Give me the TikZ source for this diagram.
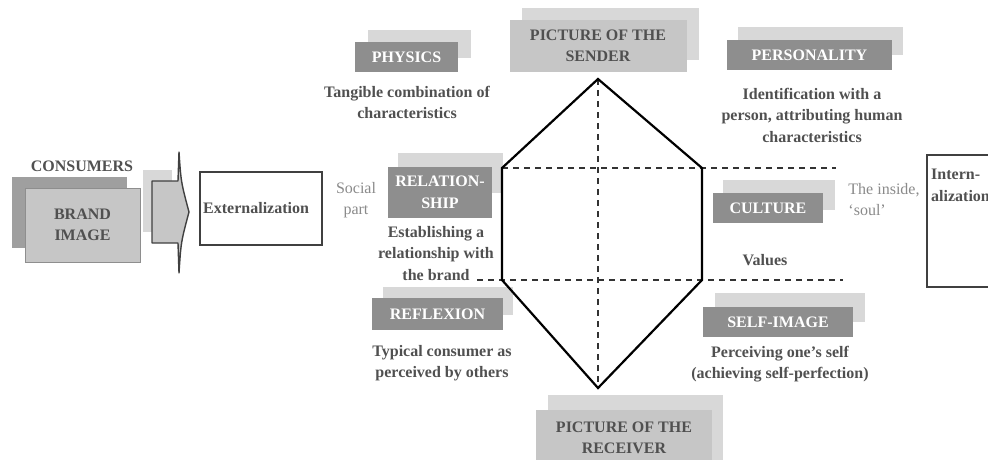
\documentclass[tikz,border=0pt]{standalone}
\usepackage{fontspec}
\setmainfont{Liberation Serif}
\definecolor{dk}{HTML}{8E8E8E}
\definecolor{lt}{HTML}{D8D8D8}
\definecolor{md}{HTML}{C6C6C6}
\definecolor{tx}{HTML}{505050}
\definecolor{soft}{HTML}{8A8A8A}
\begin{document}
\begin{tikzpicture}[x=1pt,y=-1pt,
  base/.style={inner sep=0pt, font=\fontsize{16}{21.5}\selectfont\bfseries, align=center},
  backbox/.style={base, fill=lt, draw=none},
  darkbox/.style={base, fill=dk, text=white},
  picbox/.style={base, fill=md, text=tx},
  desc/.style={base, text=tx},
  note/.style={inner sep=0pt, font=\fontsize{16}{21.5}\selectfont, text=soft, align=left},
  hexline/.style={line width=2.2pt, black, line join=miter},
  dline/.style={line width=1.4pt, black!80, dash pattern=on 6pt off 5pt}]
\useasboundingbox (0,0) rectangle (988,460);

% consumers / brand image
\node[desc] (cons) at (82,166) {CONSUMERS};
\node[base, fill=dk!85, minimum width=115, minimum height=71] (bback) at (69.5,212.5) {};
\node[picbox, draw=dk, line width=1pt, minimum width=115, minimum height=74] (brand) at (82.5,225) {BRAND\\IMAGE};

% block arrow
\fill[lt] (143,170) rectangle (172,232);
\draw[fill=md, draw=black!75, line width=1.4pt, line join=round]
  (152,181) -- (178,181) -- (179,152) .. controls (181,182) .. (189,212)
  .. controls (181,242) .. (179,273) -- (178,243) -- (152,243) -- cycle;

% externalization
\node[base, draw=black!75, line width=1.2pt, fill=white, minimum width=122, minimum height=73, text=tx] (ext) at (261,208.5) {};
\node[base, anchor=west, text=tx] (extt) at (203,208) {Externalization};
\node[note, align=center] (social) at (356,200) {Social\\part};

% physics
\node[backbox, minimum width=103, minimum height=28] (phyb) at (419,44) {};
\node[darkbox, minimum width=103, minimum height=30] (phy) at (406.5,57) {PHYSICS};
\node[desc] (phyd) at (407,102.5) {Tangible combination of\\characteristics};

% sender
\node[backbox, minimum width=177, minimum height=52] (sendb) at (610,34) {};
\node[picbox, minimum width=177, minimum height=52] (send) at (598,46) {PICTURE OF THE\\SENDER};

% personality
\node[backbox, minimum width=165, minimum height=28] (perb) at (820.5,41) {};
\node[darkbox, minimum width=165, minimum height=30] (per) at (809.5,55) {PERSONALITY};
\node[desc] (perd) at (812,115) {Identification with a\\person, attributing human\\characteristics};

% relationship
\node[backbox, minimum width=105, minimum height=40] (relb) at (450.5,173) {};
\node[darkbox, minimum width=104, minimum height=51] (rel) at (440,192.5) {RELATION-\\SHIP};
\node[desc] (reld) at (436,253.5) {Establishing a\\relationship with\\the brand};

% culture
\node[backbox, minimum width=112, minimum height=30] (culb) at (779,195) {};
\node[darkbox, minimum width=110, minimum height=30] (cul) at (768,208) {CULTURE};
\node[note] (inside) at (884,199.5) {The inside,\\`soul'};
\node[desc] (val) at (765,260) {Values};

% internalization
\node[base, draw=black!75, line width=1.2pt, fill=white, minimum width=80, minimum height=132] (intb) at (967,221) {};
\node[base, anchor=north west, align=left, text=tx] (intt) at (931,169) {Intern-\\alization};

% reflexion
\node[backbox, minimum width=130, minimum height=28] (refb) at (448,301) {};
\node[darkbox, minimum width=131, minimum height=32] (ref) at (437.5,314) {REFLEXION};
\node[desc] (refd) at (442,363) {Typical consumer as\\perceived by others};

% self-image
\node[backbox, minimum width=150, minimum height=29] (selfb) at (790,307.5) {};
\node[darkbox, minimum width=150, minimum height=30] (self) at (778,322) {SELF-IMAGE};
\node[desc] (selfd) at (780,364) {Perceiving one's self\\(achieving self-perfection)};

% receiver
\node[backbox, minimum width=175, minimum height=70] (recb) at (635,430) {};
\node[picbox, minimum width=176, minimum height=56] (rec) at (624,438) {PICTURE OF THE\\RECEIVER};

% hexagon
\coordinate (T) at (598,79);
\coordinate (UL) at (502,168);
\coordinate (LL) at (502,280);
\coordinate (B) at (598,388);
\coordinate (LR) at (702,280);
\coordinate (UR) at (702,168);
\coordinate (E1) at (836,168);
\coordinate (S2) at (477,280);
\coordinate (E2) at (843,280);
\draw[dline] (T) -- (B);
\draw[dline] (UL) -- (E1);
\draw[dline] (S2) -- (E2);
\draw[hexline] (T) -- (UR) -- (LR) -- (B) -- (LL) -- (UL) -- cycle;
\end{tikzpicture}
\end{document}
